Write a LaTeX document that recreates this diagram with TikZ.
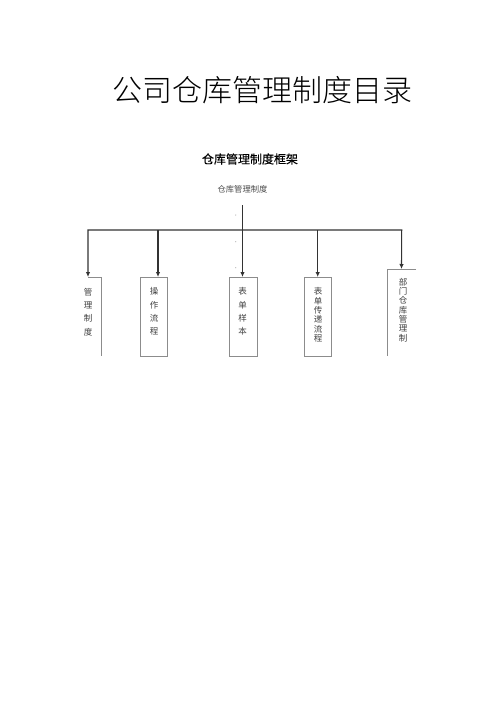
\documentclass[tikz,border=0pt]{standalone}
\usepackage{fontspec}
\setmainfont{Noto Sans CJK SC}
\newfontfamily\cjklight{Noto Sans CJK SC Light}
\newfontfamily\cjkmed[FakeBold=0.4]{Noto Sans CJK SC}
\usetikzlibrary{arrows.meta}
\begin{document}
\begin{tikzpicture}[x=1pt,y=-1pt,
  conn/.style={draw=black!80,line width=1.1pt},
  tip/.tip={Latex[length=5pt,width=4.5pt]},
  arr/.style={conn,-tip},
  boxline/.style={draw=black!45,line width=0.8pt},
  colbox/.style={minimum width=27pt,minimum height=79pt,inner sep=0pt,outer sep=0pt},
  coltext/.style={align=center,inner sep=0pt,text=black!75,font=\fontsize{8.5}{13.3}\selectfont},
  tighttext/.style={coltext,font=\fontsize{8.5}{9.3}\selectfont},
  dotmark/.style={fill=black!25}
  ]
\path[fill=white] (0,0) rectangle (500,707);
\node (title) at (262,90) {\cjklight\fontsize{30}{30}\selectfont 公司仓库管理制度目录};
\node (frame) at (250,159) {\cjkmed\fontsize{12}{12}\selectfont 仓库管理制度框架};
\node[text=black!70] (root) at (242.5,189) {\fontsize{8.3}{8.3}\selectfont 仓库管理制度};
\coordinate (top) at (242.5,205);
\coordinate (busL) at (88,230);
\coordinate (busR) at (401.7,230);
\coordinate (d2) at (158,230);
\coordinate (d4) at (317.7,230);
% boxes
\node[colbox,minimum width=26pt] (b1) at (88,316.5) {};
\node[colbox,boxline,minimum width=26.3pt] (b2) at (153.8,316.5) {};
\node[colbox,boxline,minimum width=28pt] (b3) at (243,316.5) {};
\node[colbox,boxline,minimum width=27.7pt] (b4) at (318,316.5) {};
\node[colbox,minimum width=29pt,minimum height=87pt] (b5) at (401.5,312.5) {};
\draw[boxline] (b1.north) -- (b1.north east) -- (b1.south east);
\draw[boxline] (b5.north east) -- (b5.north west) -- (b5.south west);
% texts
\node[coltext] (t1) at (88,312) {管\\理\\制\\度};
\node[coltext] (t2) at (154,311.5) {操\\作\\流\\程};
\node[coltext] (t3) at (242.5,311.5) {表\\单\\样\\本};
\node[tighttext] (t4) at (318,315) {表\\单\\传\\递\\流\\程};
\node[tighttext] (t5) at (403,310) {部\\门\\仓\\库\\管\\理\\制};
% connectors
\draw[conn,tip-tip] (b1.north) -- (busL) -- (busR) -- (b5.north);
\draw[arr] (top) -- (top |- b3.north);
\draw[arr] (d2) -- (d2 |- b2.north);
\draw[arr] (d4) -- (d4 |- b4.north);
% faint dots
\fill[dotmark] (235.7,215) circle (0.7);
\fill[dotmark] (235.7,241.7) circle (0.7);
\fill[dotmark] (235.7,267.7) circle (0.7);
\end{tikzpicture}
\end{document}
